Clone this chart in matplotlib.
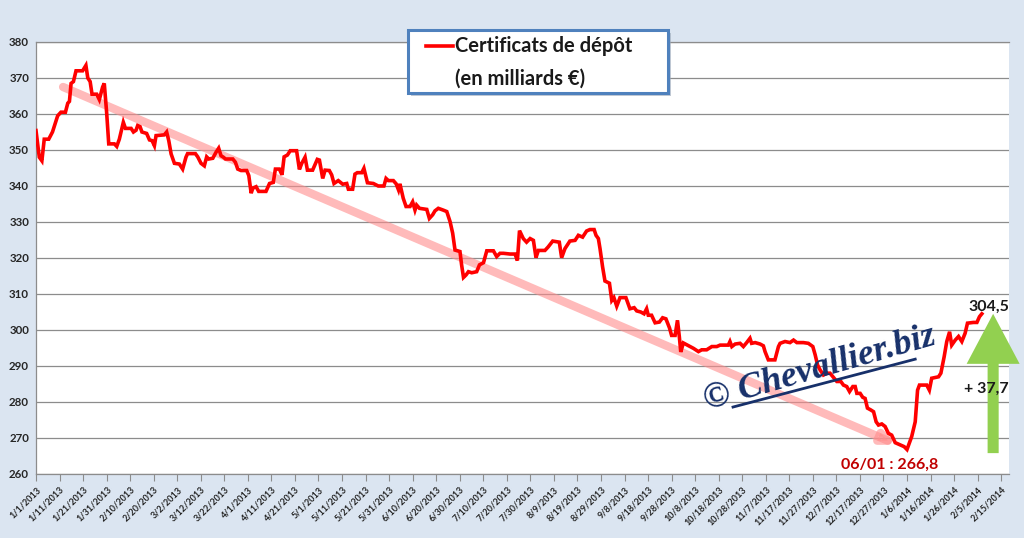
import numpy as np
import pandas as pd
import matplotlib
matplotlib.use("Agg")
import matplotlib.pyplot as plt
from matplotlib.patches import FancyBboxPatch, FancyArrow
from matplotlib.lines import Line2D

plt.rcParams['font.family'] = ['Lato', 'DejaVu Sans']

# days since 1/1/2013 and outstanding certificates of deposit (bn EUR)
days = [0, 1.4, 2.5, 3.5, 5.4, 7, 9.2, 10.6, 12.5, 13.5, 14.2, 14.9, 15.9, 17, 19.8, 21.2, 22, 23,
        23.8, 25.8, 26.9, 28.3, 29, 30, 30.9, 33.3, 34.3, 35.4, 37.1, 38, 40.4, 41.4, 42.5, 43.2,
        44.2, 45, 47, 48.2, 49.3, 50.3, 51, 54.5, 55.5, 56.4, 57.4, 58.8, 60.9, 62.3, 63.7, 64.4,
        67.7, 68.7, 70.1, 71.5, 72.5, 73.4, 75.1, 76.5, 77.6, 78.6, 79.6, 80.5, 83.6, 84.7, 85.7,
        87.1, 89.5, 90.4, 91.4, 92.1, 93.5, 94.6, 97.7, 99.2, 100.8, 101.7, 103.4, 104.5,
        105.4, 106.8, 108, 110.7, 111.9, 112.9, 114.3, 115.3, 117.5, 119.5, 120.4, 121.8, 122.8,
        124.6, 125.6, 126.6, 128.4, 130.3, 132, 132.7, 134.5, 135.5, 136.5, 138.4, 139.3, 140.8,
        143.3, 145.4, 147.8, 148.7, 149.7, 151.8, 153, 154, 154.6, 156, 157.2, 158.9, 160, 161,
        161.7, 162.9, 166, 167.1, 168.5, 169.5, 170.9, 173, 174.5, 175.9, 177, 178, 180.1, 180.8,
        181.6, 182.7, 183.7, 185.1, 187.2, 188.4, 190.1, 191.5, 194.3, 195.7, 197.1, 198.6, 201.4,
        203.5, 204.5, 205.4,
        207, 208.4, 209.9, 211.3, 212.4, 213.4, 216.2, 217.6, 219.5, 222.3, 223.3, 224.7, 226.8,
        229, 230.4, 232.2, 233.9, 235.3, 237.1, 237.9, 238.9, 239.6, 240.7, 241.7, 243.6, 244.6,
        245.5, 246.7, 248.1, 250.6, 252.3, 254.1, 255.2, 256.9, 258.3, 259.4, 260.1, 261.5, 263,
        264.8, 266.2, 267.6, 269.1, 270, 271.5, 272.5, 273.3, 273.9,
        275, 276.7, 279.3, 281.4, 282.8, 284.9, 287.1, 289.2, 290.6, 294.1, 294.8, 295.6, 297,
        299.1, 300.5, 301.9, 303.3, 304, 305.5, 307.6, 309, 309.7, 311.1, 313.9, 315.4, 316.1,
        318.2, 320.3, 321.8, 323.2, 326, 328.1, 330, 331, 332, 333.1, 334.5, 336, 337.3, 339.1,
        340.2, 341.9, 343, 344.4, 345.6, 347, 348, 348.7, 350.1, 351.2, 352.2, 353.2, 354.6,
        355.8, 356.9, 357.9, 359.3, 360.7, 362.1, 363.5, 365, 367.1, 368.8, 370, 372, 373.5,
        374.5, 375.3, 378.4, 379.5, 380.5, 383.4, 384.4, 385.8, 386.9, 388.1, 389, 390.5, 391.9,
        393.3, 394.7, 395.7, 398.2, 399.7, 400.8, 401.8]
values = [355.4, 348, 347, 353, 353, 355, 359.5, 360.5, 360.5, 363, 363.5, 368.5, 369, 372, 372,
          373.5, 370, 369, 365.5, 365.5, 364, 367.5, 368.5, 360.5, 351.7, 351.7, 351, 353, 357.7,
          356, 356, 355, 355.5, 356.8, 356.5, 355, 354.6, 352.8, 352.6, 351.2, 354, 354.2, 355,
          352.6, 348.9, 346.3, 346.1, 344.7, 348, 349, 349, 348.1, 346.3, 345.6, 348.1, 347.5,
          347.7, 349.4, 350.5, 348.4, 348, 347.5, 347.5, 346.6, 344.7, 344.3, 344.3, 342.9, 338,
          339.4, 339.8, 338.5, 338.5, 340.7, 341, 344.7, 344.7, 343.1,
          348.1, 348.6, 349.8, 349.8, 344.6, 346.3, 348, 344.4, 344.4, 347.4, 347.2, 342.1, 344.4,
          344.3, 343.1, 340.7, 341.5, 340.5, 340.7, 339.1, 339.1, 343.3, 343.7, 343.7, 344.9, 340.9,
          340.7, 340, 340, 342.1, 341.5, 341.5, 340.6, 338.9, 340.6, 336.6, 334.3, 334.3, 335.6,
          333.3, 334.7, 333.8, 333.5, 331, 332, 333.1, 333.8, 333.3, 332.9, 330.1, 326.9, 322.2,
          321.8, 318.1, 314.6, 315.3, 316.2, 315.9, 316.2, 318.1, 318.7, 322, 322, 320.4, 321.3,
          321.3, 321.1, 321.1, 319.3, 327.6,
          325.4, 324.4, 325.4, 324.9, 320.1, 322.1, 322.1, 323.1, 324.7, 324.4, 320.1, 322.6, 324.7,
          324.9, 326.3, 325.8, 327.5, 327.9, 327.9, 326.3, 325.4, 322.6, 317.5, 313.6, 313, 308.2,
          309, 306.6, 309, 309, 305.9, 306.2, 305.3, 305, 304.5, 305.9, 304.1, 304.1, 302, 302.2,
          303.4, 303.1, 300.6, 298.5, 298.5, 302.7, 298.1, 293.9,
          296.4, 295.8, 294.9, 294, 294.5, 294.5, 295.4, 295.4, 295.8, 295.8, 296.8, 295.4, 296.1,
          296.3, 295.4, 296.5, 297.7, 296.3, 296.5, 296.1, 295.6, 294, 291.7, 291.7, 295.4, 296.3,
          296.8, 296.5, 297.2, 296.5, 296.5, 296.3, 295.4, 293.1, 290.3, 288.9, 287.5, 288, 288,
          286.6, 285.7, 285.7, 284.7, 284.3, 282.9, 284.3, 284.3, 282.4, 282.4, 281.3, 281, 278.3,
          277.8, 277.3, 274.5, 273.6, 273.9, 273.2, 271.3, 270.8, 268.7, 268.1, 267.6, 266.8, 270.4,
          274.5, 283.3, 284.7, 284.7, 283.3, 286.6, 287, 288, 292.6, 296.8, 299.5, 295.8, 297.2,
          298.2, 296.8, 299.1, 301.9, 302.1, 302.1, 303.7, 304.5]

trend_days = [11.5, 366]
trend_values = [367.5, 268.1]

low_label = "06/01"
low_value = 266.8
last_value = 304.5

start = pd.Timestamp("2013-01-01")
tick_days = np.arange(0, 411, 10)
tick_labels = []
for d in tick_days:
    t = start + pd.Timedelta(days=int(d))
    tick_labels.append(f"{t.month}/{t.day}/{t.year}")


def fr(v):
    return f"{v:.1f}".replace(".", ",")


fig = plt.figure(figsize=(10.24, 5.38), dpi=100, facecolor="#dbe5f1")
ax = fig.add_axes([36 / 1024, 1 - 474 / 538, 973 / 1024, 432 / 538])
ax.set_facecolor("white")
ax.set_xlim(0, 973 / 2.354)
ax.set_ylim(260, 380)

ax.set_yticks(np.arange(260, 381, 10))
ax.yaxis.grid(True, color="#8c8c8c", lw=0.9)
ax.set_axisbelow(True)
ax.tick_params(axis="y", length=0, pad=5, labelsize=8.3, labelcolor="#262626")
for lab in ax.get_yticklabels():
    lab.set_fontweight("bold")

ax.set_xticks(tick_days)
ax.set_xticklabels(tick_labels, rotation=45, ha="right", rotation_mode="anchor",
                   fontsize=6.5, fontweight="bold", color="#262626")
ax.tick_params(axis="x", direction="out", length=5, color="#8c8c8c", pad=3)

for s in ["left", "bottom", "top"]:
    ax.spines[s].set_color("#8c8c8c")
    ax.spines[s].set_linewidth(0.9)
ax.spines["right"].set_visible(False)

# trend arrow
ax.annotate("", xy=(trend_days[1], trend_values[1]), xytext=(trend_days[0], trend_values[0]),
            arrowprops=dict(arrowstyle="-|>,head_length=0.7,head_width=0.3",
                            color="#ff8c8c", alpha=0.6, lw=6, shrinkA=0, shrinkB=0),
            zorder=2)

ax.plot(days, values, color="#ff0000", lw=2.6, zorder=3, solid_joinstyle="miter")

# green arrow
arr = FancyArrow(406.6, 265.8, 0, last_value - 265.8, width=4.7, head_width=22.5,
                 head_length=13.9, length_includes_head=True, color="#92d050", lw=0,
                 clip_on=False, zorder=4)
ax.add_patch(arr)

ax.text(405, 306.5, fr(last_value), ha="center", va="center", fontsize=11.5,
        fontweight="bold", color="#1a1a1a", clip_on=False, zorder=5)
ax.text(403.5, 283.7, "+ " + fr(last_value - low_value), ha="center", va="center", fontsize=11.5,
        fontweight="bold", color="#1a1a1a", clip_on=False, zorder=5)
ax.text(362.7, 262.5, f"{low_label} : {fr(low_value)}", ha="center", va="center", fontsize=11.5,
        fontweight="bold", color="#c00000", zorder=5)

# watermark
ax.text(333, 289.3, "© Chevallier.biz", rotation=16, ha="center", va="center", fontsize=26,
        family="Liberation Serif", style="italic", fontweight="bold", color="#17306a", zorder=5)
ax.plot([296.1, 373.5], [278.6, 291.9], color="#17306a", lw=2, zorder=5)

# legend box
shadow = FancyBboxPatch((411 / 1024, 1 - 96 / 538), 260 / 1024, 63 / 538,
                        boxstyle="square,pad=0", transform=fig.transFigure,
                        facecolor="#9aa8b8", edgecolor="none", alpha=0.6, zorder=9)
fig.patches.append(shadow)
box = FancyBboxPatch((408 / 1024, 1 - 93 / 538), 260 / 1024, 63 / 538,
                     boxstyle="square,pad=0", transform=fig.transFigure,
                     facecolor="white", edgecolor="#4f81bd", lw=2.2, zorder=10)
fig.patches.append(box)
fig.lines.append(Line2D([426 / 1024, 453 / 1024], [1 - 46 / 538, 1 - 46 / 538],
                        transform=fig.transFigure, color="#ff0000", lw=2.6, zorder=11))
fig.text(455 / 1024, 1 - 46 / 538, "Certificats de dépôt", ha="left", va="center",
         fontsize=14.5, fontweight="bold", color="#1a1a1a", zorder=11)
fig.text(455 / 1024, 1 - 79 / 538, "(en milliards €)", ha="left", va="center",
         fontsize=14.5, fontweight="bold", color="#1a1a1a", zorder=11)

fig.savefig("out.png", dpi=100, facecolor=fig.get_facecolor())
